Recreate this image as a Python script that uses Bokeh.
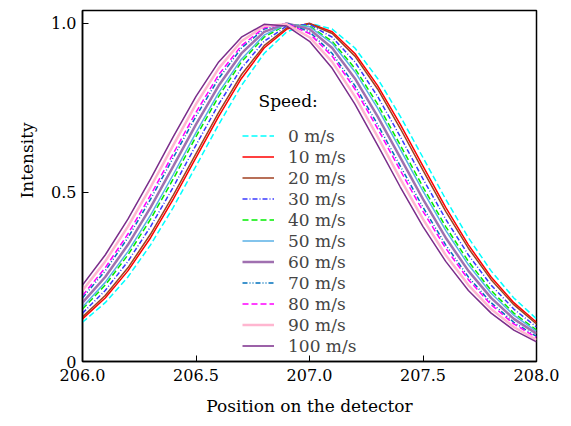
from bokeh.plotting import figure
from bokeh.models import Range1d, FixedTicker, Legend, LegendItem, Label, Title
from bokeh.embed import file_html
from bokeh.resources import INLINE

x_pos = [206.0, 206.1, 206.2, 206.3, 206.4, 206.5, 206.6, 206.7, 206.8, 206.9, 207.0,
         207.1, 207.2, 207.3, 207.4, 207.5, 207.6, 207.7, 207.8, 207.9, 208.0]

speeds = ["0 m/s", "10 m/s", "20 m/s", "30 m/s", "40 m/s", "50 m/s",
          "60 m/s", "70 m/s", "80 m/s", "90 m/s", "100 m/s"]

i_0 = [0.116, 0.174, 0.250, 0.345, 0.456, 0.578, 0.701, 0.816, 0.911, 0.975, 1.000,
       0.983, 0.927, 0.837, 0.725, 0.603, 0.480, 0.366, 0.268, 0.188, 0.126]
i_10 = [0.126, 0.188, 0.268, 0.366, 0.480, 0.603, 0.725, 0.837, 0.927, 0.983, 1.000,
        0.975, 0.911, 0.816, 0.701, 0.578, 0.456, 0.345, 0.250, 0.174, 0.116]
i_20 = [0.132, 0.195, 0.277, 0.377, 0.492, 0.615, 0.737, 0.848, 0.934, 0.987, 0.999,
        0.970, 0.903, 0.806, 0.689, 0.565, 0.444, 0.335, 0.242, 0.168, 0.111]
i_30 = [0.143, 0.210, 0.296, 0.399, 0.516, 0.640, 0.761, 0.867, 0.947, 0.992, 0.997,
        0.959, 0.886, 0.784, 0.665, 0.540, 0.421, 0.315, 0.226, 0.155, 0.102]
i_40 = [0.155, 0.226, 0.315, 0.421, 0.540, 0.665, 0.784, 0.886, 0.959, 0.997, 0.992,
        0.947, 0.867, 0.761, 0.640, 0.516, 0.399, 0.296, 0.210, 0.143, 0.093]
i_50 = [0.161, 0.234, 0.325, 0.433, 0.553, 0.677, 0.795, 0.894, 0.965, 0.998, 0.990,
        0.941, 0.857, 0.749, 0.627, 0.504, 0.388, 0.286, 0.202, 0.137, 0.089]
i_60 = [0.174, 0.250, 0.345, 0.456, 0.578, 0.701, 0.816, 0.911, 0.975, 1.000, 0.983,
        0.927, 0.837, 0.725, 0.603, 0.480, 0.366, 0.268, 0.188, 0.126, 0.082]
i_70 = [0.188, 0.268, 0.366, 0.480, 0.603, 0.725, 0.837, 0.927, 0.983, 1.000, 0.975,
        0.911, 0.816, 0.701, 0.578, 0.456, 0.345, 0.250, 0.174, 0.116, 0.074]
i_80 = [0.195, 0.277, 0.377, 0.492, 0.615, 0.737, 0.848, 0.934, 0.987, 0.999, 0.970,
        0.903, 0.806, 0.689, 0.565, 0.444, 0.335, 0.242, 0.168, 0.111, 0.071]
i_90 = [0.210, 0.296, 0.399, 0.516, 0.640, 0.761, 0.867, 0.947, 0.992, 0.997, 0.959,
        0.886, 0.784, 0.665, 0.540, 0.421, 0.315, 0.226, 0.155, 0.102, 0.064]
i_100 = [0.226, 0.315, 0.421, 0.540, 0.665, 0.784, 0.886, 0.959, 0.997, 0.992, 0.947,
         0.867, 0.761, 0.640, 0.516, 0.399, 0.296, 0.210, 0.143, 0.093, 0.058]

series = [i_0, i_10, i_20, i_30, i_40, i_50, i_60, i_70, i_80, i_90, i_100]

x_ticks = [206.0, 206.5, 207.0, 207.5, 208.0]
x_tick_labels = ["206.0", "206.5", "207.0", "207.5", "208.0"]
y_ticks = [0.0, 0.5, 1.0]
y_tick_labels = ["0", "0.5", "1.0"]

colors = ["#00ffff", "#ff0000", "#a04020", "#3a3aff", "#00ee00", "#5ab0e6",
          "#a070b0", "#0072bd", "#ff00ff", "#ffb6d0", "#7b2d8b"]
dashes = ["6 3", "solid", "solid", "5 2 1 2", "6 3", "solid",
          "solid", "5 2 1 2 1 2", "6 3", "solid", "solid"]
widths = [1.5, 1.5, 1.5, 1.5, 1.5, 1.5, 2.5, 1.5, 1.5, 2.5, 1.5]

FONT = "DejaVu Serif"

p = figure(width=563, height=418, output_backend="svg", toolbar_location=None,
           x_range=Range1d(206.0, 208.0), y_range=Range1d(0.0, 1.038),
           min_border_left=82, min_border_right=27, min_border_top=10,
           min_border_bottom=53)
p.background_fill_color = "white"
p.border_fill_color = "white"
p.outline_line_color = "black"
p.outline_line_width = 1.5
p.grid.visible = False

items = []
for name, ys, c, d, w in zip(speeds, series, colors, dashes, widths):
    r = p.line(x_pos, ys, line_color=c, line_dash=d, line_width=w)
    items.append(LegendItem(label=name, renderers=[r]))

p.xaxis.ticker = FixedTicker(ticks=x_ticks)
p.xaxis.major_label_overrides = dict(zip(x_ticks, x_tick_labels))
p.yaxis.ticker = FixedTicker(ticks=y_ticks)
p.yaxis.major_label_overrides = dict(zip(y_ticks, y_tick_labels))
for ax in (p.xaxis, p.yaxis):
    ax.major_tick_in = 6
    ax.major_tick_out = 0
    ax.minor_tick_line_color = None
    ax.axis_line_color = "black"
    ax.axis_line_width = 1.5
    ax.major_tick_line_color = "black"
    ax.major_label_text_font = FONT
    ax.major_label_text_font_size = "16px"
    ax.major_label_text_color = "black"
    ax.axis_label_text_font = FONT
    ax.axis_label_text_font_size = "17px"
    ax.axis_label_text_font_style = "normal"
    ax.axis_label_text_color = "black"
p.xaxis.axis_label = "Position on the detector"
p.xaxis.major_label_standoff = 7
p.yaxis.major_label_standoff = 6
p.xaxis.axis_label_standoff = 12

ytitle = Title(text="Intensity", align="left", offset=163, standoff=24,
               text_font=FONT, text_font_size="17px", text_font_style="normal",
               text_color="black")
p.add_layout(ytitle, "left")

p.add_layout(Label(x=176, y=261, x_units="screen", y_units="screen",
                   text="Speed:", text_align="left", text_baseline="middle",
                   text_font=FONT, text_font_size="17px", text_color="black"))

legend = Legend(items=items, location=(160, 5),
                label_text_font=FONT, label_text_font_size="17px",
                label_standoff=14,
                glyph_width=32, glyph_height=21, label_height=21,
                spacing=0, padding=5, margin=0,
                border_line_color=None, background_fill_alpha=0)
p.add_layout(legend, "center")

open("out.html", "w").write(file_html(p, INLINE))
